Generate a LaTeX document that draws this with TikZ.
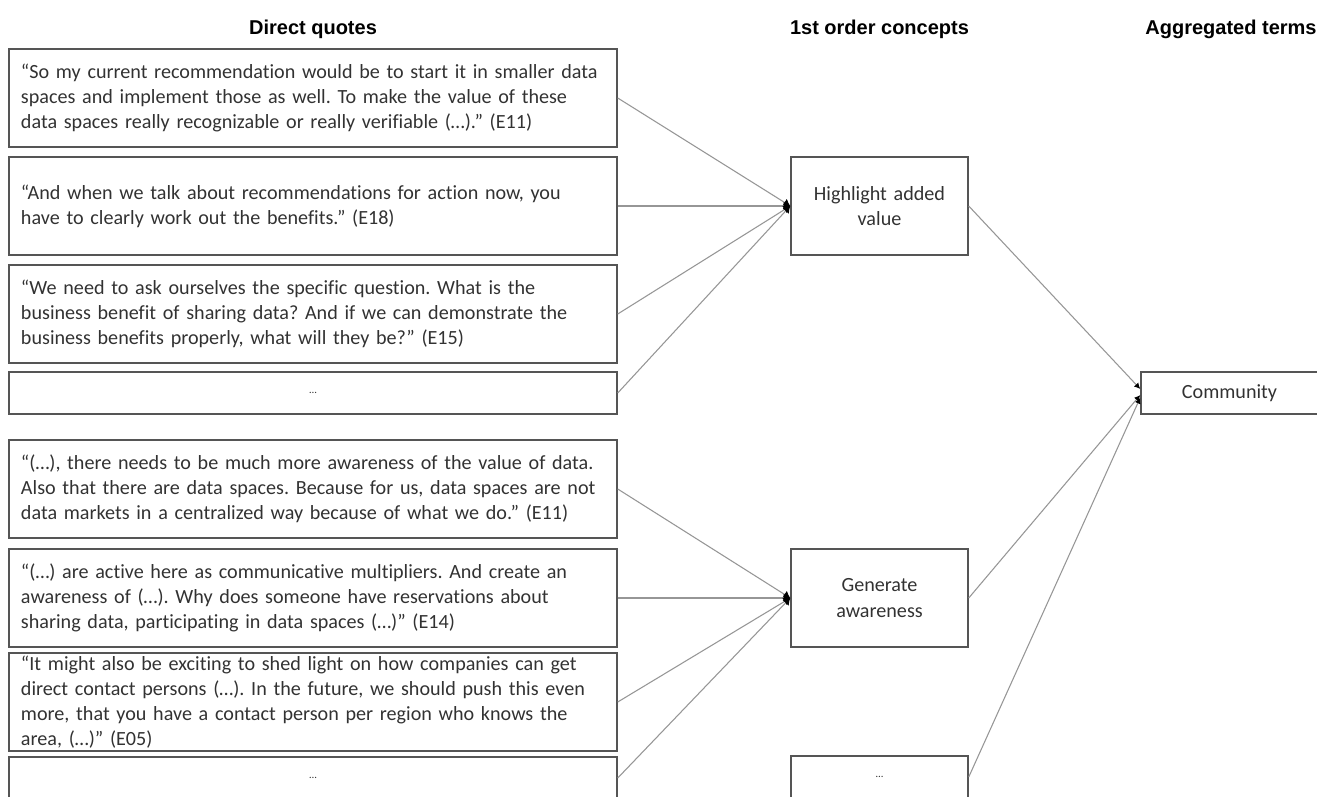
\documentclass[tikz,border=0pt]{standalone}
\usepackage{fontspec}
\setmainfont{Carlito}[Ligatures={TeX,CommonOff}]
\newfontfamily\hdfont{Liberation Sans}
\usetikzlibrary{arrows.meta}
\definecolor{boxgray}{RGB}{85,85,85}
\definecolor{linegray}{RGB}{150,150,150}
\definecolor{txtgray}{RGB}{50,50,50}
\newcommand{\qfont}{\fontsize{15.1}{18.9}\selectfont}
\newcommand{\dotfont}{\fontsize{8}{10}\selectfont}
\frenchspacing
\begin{document}
\begin{tikzpicture}[x=0.75pt,y=-0.75pt,
  quote/.style={draw=boxgray, line width=1.1pt, minimum width=456pt, minimum height=73.5pt, inner sep=0pt, text width=438pt, align=left, font=\qfont, text=txtgray},
  shortquote/.style={quote, minimum height=31.5pt, align=center},
  concept/.style={draw=boxgray, line width=1.1pt, minimum width=132.75pt, minimum height=73.5pt, inner sep=0pt, text width=115pt, align=center, font=\qfont, text=txtgray},
  shortconcept/.style={concept, minimum height=31.5pt},
  header/.style={font=\hdfont\bfseries\fontsize{15}{17}\selectfont, text=black, inner sep=0pt},
  conn/.style={draw=linegray, line width=0.8pt, -{Latex[length=5pt,width=6.5pt,black]}},
  conn2/.style={draw=linegray, line width=0.8pt, -{Latex[length=4.5pt,width=4.5pt,black]}}
]
\useasboundingbox (0,0) rectangle (1317,796);
\clip (0,0) rectangle (1317,796);

% headers
\node[header] (h1) at (313,29) {Direct quotes};
\node[header] (h2) at (879.5,29) {1st order concepts};
\node[header] (h3) at (1231,29) {Aggregated terms};

% quotes
\node[quote] (q1) at (313,98) {“So my current recommendation would be to start it in smaller data\\spaces and implement those as well. To make the value of these\\data spaces really recognizable or really verifiable (…).” (E11)};
\node[quote] (q2) at (313,206) {“And when we talk about recommendations for action now, you\\have to clearly work out the benefits.” (E18)};
\node[quote] (q3) at (313,314) {“We need to ask ourselves the specific question. What is the\\business benefit of sharing data? And if we can demonstrate the\\business benefits properly, what will they be?" (E15)};
\node[shortquote] (q4) at (313,393) {\dotfont …};
\node[quote] (q5) at (313,489) {“(…), there needs to be much more awareness of the value of data.\\Also that there are data spaces. Because for us, data spaces are not\\data markets in a centralized way because of what we do.” (E11)};
\node[quote] (q6) at (313,598) {“(…) are active here as communicative multipliers. And create an\\awareness of (…). Why does someone have reservations about\\sharing data, participating in data spaces (…)” (E14)};
\node[quote] (q7) at (313,702) {“It might also be exciting to shed light on how companies can get\\direct contact persons (…). In the future, we should push this even\\more, that you have a contact person per region who knows the\\area, (…)” (E05)};
\node[shortquote] (q8) at (313,778) {\dotfont …};

% concepts
\node[concept] (c1) at (879.5,206) {Highlight added\\value};
\node[concept] (c2) at (879.5,598) {Generate\\awareness};
\node[shortconcept] (c3) at (879.5,777) {\dotfont …};

% aggregated
\node[shortconcept] (com) at (1229.5,393) {Community};

% connectors quotes -> concepts
\draw[conn] (q1.east) -- (c1.west);
\draw[conn] (q2.east) -- (c1.west);
\draw[conn] (q3.east) -- (c1.west);
\draw[conn] (q4.east) -- (c1.west);
\draw[conn] (q5.east) -- (c2.west);
\draw[conn] (q6.east) -- (c2.west);
\draw[conn] (q7.east) -- (c2.west);
\draw[conn] (q8.east) -- (c2.west);

% concepts -> aggregated
\draw[conn2] (c1.east) -- ([yshift=3pt]com.west);
\draw[conn2] (c2.east) -- ([yshift=-1.5pt]com.west);
\draw[conn2] (c3.east) -- ([yshift=-3.5pt]com.west);
\end{tikzpicture}
\end{document}
